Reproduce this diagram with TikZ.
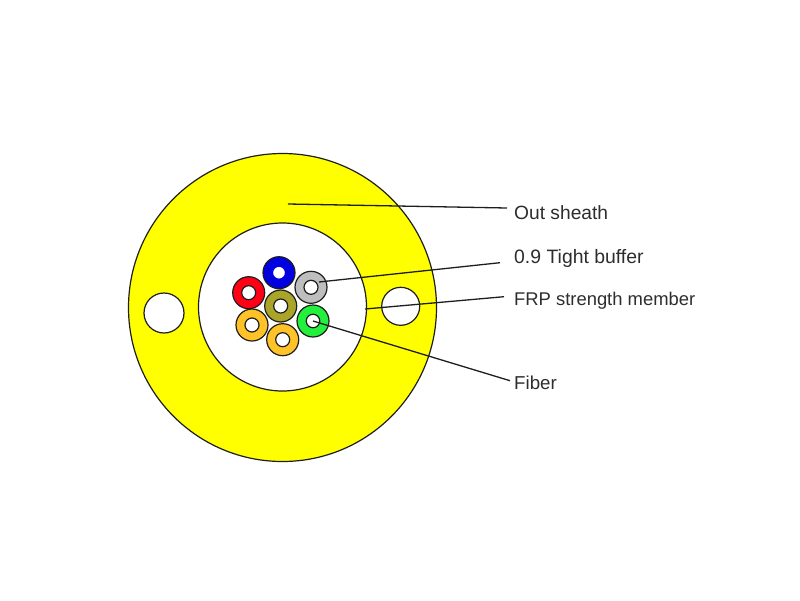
\documentclass[tikz,border=0pt]{standalone}
\usepackage{fontspec}
\setmainfont{Liberation Sans}
\definecolor{sheath}{RGB}{255,255,0}
\definecolor{inkline}{RGB}{30,30,30}
\definecolor{txt}{RGB}{45,45,45}
\definecolor{ogreen}{RGB}{34,240,60}
\definecolor{ogray}{RGB}{190,190,190}
\definecolor{oolive}{RGB}{170,165,40}
\definecolor{oorange}{RGB}{255,195,40}
\definecolor{ored}{RGB}{255,0,20}
\definecolor{oblue}{RGB}{0,0,225}
\tikzset{
  disc/.style={circle,draw=inkline,line width=1.2pt,inner sep=0pt,outer sep=0pt},
  ring/.style={disc,minimum size=32pt,fill=#1},
  bore/.style={disc,minimum size=14pt,fill=white},
  lead/.style={draw=inkline,line width=1.3pt},
  lbl/.style={anchor=base west,inner sep=0pt,text=txt,font=\fontsize{#1}{22}\selectfont}
}
\begin{document}
\begin{tikzpicture}[x=1pt,y=-1pt]
\useasboundingbox (0,0) rectangle (800,600);
\node[disc,minimum size=308pt,fill=sheath] (outer) at (282.5,307.5) {};
\node[disc,minimum size=168pt,fill=white] (inner) at (282.5,307) {};
\node[disc,minimum size=40pt,fill=white] (holeL) at (164,313) {};
\node[disc,minimum size=38pt,fill=white] (holeR) at (400.7,306.3) {};
\foreach \n/\c/\x/\y/\b/\s in {a/oblue/279/272.7/13/oblue, b/ogray/311/287.3/14/inkline, c/ored/248.7/292.7/14/inkline, d/oolive/280.7/306/14/inkline, e/ogreen/313/321/13.5/inkline, f/oorange/252/325/14/inkline, g/oorange/282.7/339.7/14/inkline}{
  \node[ring=\c] (r\n) at (\x,\y) {};
  \node[bore,draw=\s,minimum size=\b pt] (h\n) at (\x,\y) {};
}
\node[lbl=19.2] (t1) at (514,219.5) {Out sheath};
\node[lbl=19.4] (t2) at (514,263) {0.9 Tight buffer};
\node[lbl=18.4] (t3) at (514,305) {FRP strength member};
\node[lbl=18.7] (t4) at (514,389) {Fiber};
\coordinate (p1) at (288,204);
\coordinate (q1) at (507,208);
\coordinate (p2) at (319,282);
\coordinate (q2) at (500,262.7);
\coordinate (p3) at (365,309);
\coordinate (q3) at (504,296.7);
\coordinate (p4) at (313,321);
\coordinate (q4) at (510,380.7);
\draw[lead] (p1) -- (q1);
\draw[lead] (p2) -- (q2);
\draw[lead] (p3) -- (q3);
\draw[lead] (p4) -- (q4);
\end{tikzpicture}
\end{document}
